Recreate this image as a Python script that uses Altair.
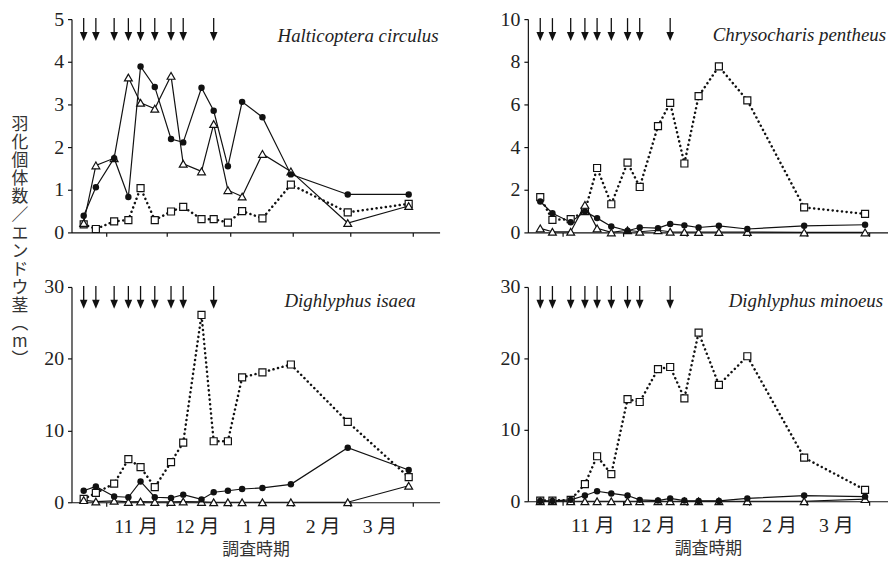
import altair as alt
import pandas as pd

# ---------------- data ----------------
sample_dates = ["2006-10-21", "2006-10-27", "2006-11-05", "2006-11-12",
                "2006-11-18", "2006-11-25", "2006-12-03", "2006-12-09",
                "2006-12-18", "2006-12-24", "2006-12-31", "2007-01-07",
                "2007-01-17", "2007-01-31", "2007-02-28", "2007-03-30"]
arrow_dates = ["2006-10-21", "2006-10-27", "2006-11-05", "2006-11-12",
               "2006-11-18", "2006-11-25", "2006-12-03", "2006-12-09",
               "2006-12-24"]
month_starts = ["2006-11-01", "2006-12-01", "2007-01-01", "2007-02-01",
                "2007-03-01", "2007-04-01"]
month_labels = ["11 月", "12 月", "1 月", "2 月", "3 月", ""]

species = ["Halticoptera circulus", "Chrysocharis pentheus",
           "Dighlyphus isaea", "Dighlyphus minoeus"]
y_title = "羽化個体数／エンドウ茎︵m︶"
x_title = "調査時期"

# Halticoptera circulus
hc_circle = [0.39, 1.06, 1.74, 0.83, 3.89, 3.41, 2.19, 2.11, 3.39, 2.85, 1.55, 3.06, 2.70, 1.36, 0.89, 0.89]
hc_triangle = [0.22, 1.57, 1.74, 3.63, 3.04, 2.90, 3.67, 1.61, 1.43, 2.54, 0.99, 0.84, 1.84, 1.43, 0.22, 0.62]
hc_square = [0.19, 0.08, 0.26, 0.29, 1.04, 0.29, 0.49, 0.60, 0.31, 0.31, 0.23, 0.50, 0.33, 1.12, 0.47, 0.67]
# Chrysocharis pentheus
cp_circle = [1.45, 0.90, 0.48, 0.98, 0.67, 0.28, 0.08, 0.23, 0.20, 0.40, 0.33, 0.23, 0.31, 0.16, 0.31, 0.36]
cp_triangle = [0.19, 0.03, 0.03, 1.29, 0.19, 0.0, 0.10, 0.03, 0.10, 0.03, 0.02, 0.02, 0.02, 0.02, 0.0, 0.0]
cp_square = [1.65, 0.59, 0.62, 1.00, 3.02, 1.32, 3.27, 2.13, 4.98, 6.07, 3.23, 6.39, 7.78, 6.19, 1.17, 0.87]
# Dighlyphus isaea
di_circle = [1.6, 2.2, 0.8, 0.7, 2.9, 0.7, 0.6, 1.06, 0.4, 1.4, 1.6, 1.85, 2.0, 2.5, 7.6, 4.5]
di_triangle = [0.3, 0.1, 0.2, 0.05, 0.1, 0.05, 0.05, 0.1, 0.05, 0.0, 0.0, 0.0, 0.0, 0.0, 0.0, 2.3]
di_square = [0.46, 1.3, 2.6, 6.0, 4.9, 2.1, 5.6, 8.3, 26.1, 8.5, 8.5, 17.4, 18.1, 19.2, 11.2, 3.5]
# Dighlyphus minoeus
dm_circle = [0.05, 0.05, 0.2, 0.8, 1.4, 1.1, 0.8, 0.2, 0.1, 0.4, 0.1, 0.05, 0.05, 0.4, 0.8, 0.65]
dm_triangle = [0.0, 0.0, 0.0, 0.0, 0.0, 0.0, 0.0, 0.0, 0.0, 0.0, 0.0, 0.0, 0.0, 0.0, 0.0, 0.3]
dm_square = [0.1, 0.1, 0.2, 2.4, 6.3, 3.8, 14.3, 13.9, 18.5, 18.8, 14.4, 23.6, 16.3, 20.3, 6.1, 1.6]

# ---------------- helpers ----------------
origin = pd.Timestamp("2006-11-01")


def to_days(lst):
    return [(pd.Timestamp(d) - origin).days for d in lst]


sample_days = to_days(sample_dates)
arrow_days = to_days(arrow_dates)
month_days = to_days(month_starts)
label_expr = " : ".join(
    f"datum.value == {d} ? '{lab}'" for d, lab in zip(month_days, month_labels)
) + " : ''"

K = "#111111"
SERIF = "Liberation Serif"
MIXED = "Liberation Serif, Noto Sans CJK JP"
CJK = "Noto Sans CJK JP"


def panel(name, circle, triangle, square, ymax, yvals, width, height, xdom,
          tx, ty, bottom, ylabel=False):
    df = pd.DataFrame({
        "day": sample_days * 3,
        "series": ["circle"] * 16 + ["triangle"] * 16 + ["square"] * 16,
        "value": circle + triangle + square,
    })
    axis_kw = dict(values=month_days, tickSize=4, domain=True, grid=False)
    if bottom:
        axis_kw.update(labels=True, labelExpr=label_expr, labelOffset=30,
                       labelPadding=10, title=x_title, titlePadding=6)
    else:
        axis_kw.update(labels=False, title=None)
    x = alt.X("day:Q", scale=alt.Scale(domain=xdom, nice=False, zero=False),
              axis=alt.Axis(**axis_kw))
    y = alt.Y("value:Q", scale=alt.Scale(domain=[0, ymax], nice=False),
              axis=alt.Axis(values=yvals, tickSize=4, labelPadding=4,
                            title=None, grid=False))
    base = alt.Chart(df).encode(x=x, y=y)
    sq_line = base.transform_filter("datum.series == 'square'").mark_line(
        color=K, strokeWidth=2.5, strokeDash=[0.1, 4.6], strokeCap="round")
    tri_line = base.transform_filter("datum.series == 'triangle'").mark_line(
        color=K, strokeWidth=1.2)
    cir_line = base.transform_filter("datum.series == 'circle'").mark_line(
        color=K, strokeWidth=1.2)
    sq_pt = base.transform_filter("datum.series == 'square'").mark_point(
        shape="square", filled=True, fill="white", stroke=K, strokeWidth=1.2,
        size=50, opacity=1)
    tri_pt = base.transform_filter("datum.series == 'triangle'").mark_point(
        shape="triangle-up", filled=True, fill="white", stroke=K,
        strokeWidth=1.2, size=62, opacity=1)
    cir_pt = base.transform_filter("datum.series == 'circle'").mark_circle(
        color=K, size=42, opacity=1)

    adf = pd.DataFrame({"day": arrow_days})
    shaft = alt.Chart(adf).mark_rule(color=K, strokeWidth=1.3).encode(
        x=x, y=alt.value(-1), y2=alt.value(14))
    head = alt.Chart(adf).mark_point(
        shape="M-0.85,-1L0.85,-1L0,1Z", filled=True, color=K, size=81,
        opacity=1).encode(x=x, y=alt.value(17.5))

    tdf = pd.DataFrame({"t": [name]})
    title = alt.Chart(tdf).mark_text(
        align="right", baseline="alphabetic", font=SERIF, fontStyle="italic",
        fontSize=19, color="#222").encode(
        x=alt.value(tx), y=alt.value(ty), text="t:N")

    layers = [sq_line, tri_line, cir_line, sq_pt, tri_pt, cir_pt, shaft, head, title]
    if ylabel:
        ldf = pd.DataFrame({"t": ["\n".join(list(y_title))]})
        ytext = alt.Chart(ldf).mark_text(
            lineBreak="\n", align="center", baseline="middle", font=CJK,
            fontSize=17, lineHeight=18.2, color="#333").encode(
            x=alt.value(-52), y=alt.value(-163), text="t:N")
        layers.append(ytext)
    return alt.layer(*layers).properties(width=width, height=height)


LEFT_DOM = [-17.0, 164.2]
RIGHT_DOM = [-17.1, 160.3]

tl = panel(species[0], hc_circle, hc_triangle, hc_square, 5, [0, 1, 2, 3, 4, 5],
           371, 215, LEFT_DOM, 370, 23, False)
tr = panel(species[1], cp_circle, cp_triangle, cp_square, 10, [0, 2, 4, 6, 8, 10],
           363, 215, RIGHT_DOM, 361, 22, False)
bl = panel(species[2], di_circle, di_triangle, di_square, 30, [0, 10, 20, 30],
           371, 217, LEFT_DOM, 347, 20, True, ylabel=True)
br = panel(species[3], dm_circle, dm_triangle, dm_square, 30, [0, 10, 20, 30],
           363, 216, RIGHT_DOM, 358, 20, True)

chart = alt.concat(
    tl, tr, bl, br, columns=2, spacing={"row": 55, "column": 89},
    bounds="flush", align="each"
).properties(
    padding={"left": 3, "top": -1, "right": 0, "bottom": 0}
).configure_view(
    strokeWidth=0
).configure_axis(
    domainColor=K, tickColor=K, domainWidth=1.2, tickWidth=1.2,
    labelColor="#222", labelFont=MIXED, labelFontSize=20,
    titleFont=CJK, titleFontSize=17, titleColor="#333", titleFontWeight="normal",
)

chart.save("out.html", embed_options={"renderer": "svg", "actions": False})
